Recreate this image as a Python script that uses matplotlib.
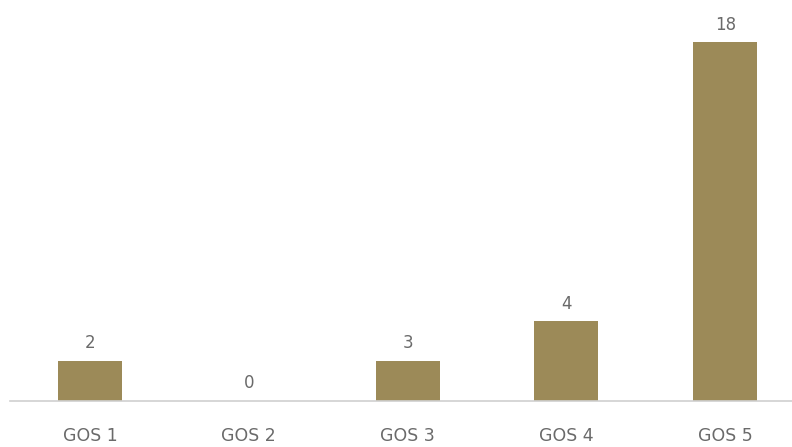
import matplotlib.pyplot as plt

categories = ['GOS 1', 'GOS 2', 'GOS 3', 'GOS 4', 'GOS 5']
# bar heights as drawn in the picture; GOS 3 is drawn at height 2 but labelled 3
heights = [2, 0, 2, 4, 18]
value_labels = ['2', '0', '3', '4', '18']

bar_color = '#9C8A58'
text_color = '#6A6A6A'

fig = plt.figure(figsize=(7.92, 4.47), dpi=100)
ax = fig.add_axes([10 / 792, 46.3 / 447, 782 / 792, 400.7 / 447])

x = list(range(len(categories)))
ax.bar(x, heights, width=0.403, color=bar_color)

for xi, h, lab in zip(x, heights, value_labels):
    ax.annotate(lab, (xi, h), xytext=(0, 6), textcoords='offset points',
                ha='center', va='bottom', fontsize=12, color=text_color,
                family='DejaVu Sans')

ax.set_xlim(-0.504, 4.42)
ax.set_ylim(0, 20.1)
ax.set_xticks(x)
ax.set_xticklabels(categories, fontsize=12.5, color=text_color,
                   family='DejaVu Sans')
ax.tick_params(axis='x', length=0, pad=19)
ax.set_yticks([])
for s in ['top', 'left', 'right']:
    ax.spines[s].set_visible(False)
ax.spines['bottom'].set_color('#D0D0D0')
ax.spines['bottom'].set_linewidth(1.2)

fig.savefig('out.png', dpi=100)
